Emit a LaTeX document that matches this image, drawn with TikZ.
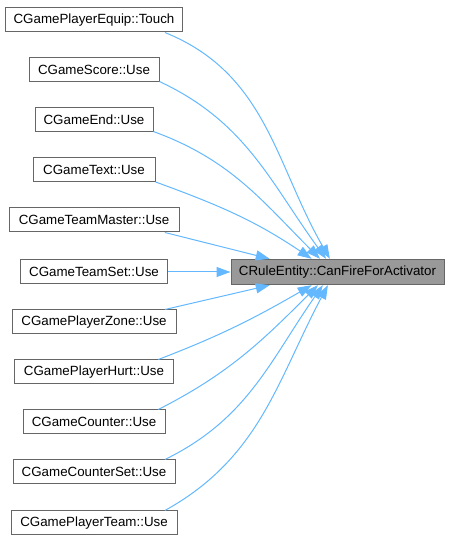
\documentclass[tikz,border=0pt]{standalone}
\usepackage{fontspec}
\setmainfont{Liberation Sans}
\usetikzlibrary{arrows.meta}
\definecolor{edgeblue}{HTML}{63B8FF}
\definecolor{boxgray}{HTML}{666666}
\definecolor{fillgray}{HTML}{999999}

\begin{document}
\begin{tikzpicture}[x=0.75pt, y=0.75pt,
  caller/.style={draw=boxgray, fill=white, line width=0.75pt, minimum height=18pt,
    inner sep=0pt, font=\fontsize{10}{12}\selectfont},
  callee/.style={caller, fill=fillgray, minimum height=19pt},
  call/.style={draw=edgeblue, line width=0.75pt, -{Triangle[length=10.5pt,width=7.5pt]}}]

\useasboundingbox (0,0) rectangle (449,544);

% Called function
\node[callee, minimum width=159.75pt] (canfire) at (337.5,272) {CRuleEntity::CanFireForActivator};

% Callers
\node[caller, minimum width=132.75pt] (equip)   at (94,524) {CGamePlayerEquip::Touch};
\node[caller, minimum width=97.5pt]   (score)   at (94,474) {CGameScore::Use};
\node[caller, minimum width=88.5pt]   (gend)    at (94,424) {CGameEnd::Use};
\node[caller, minimum width=91.5pt]   (gtext)   at (94,374) {CGameText::Use};
\node[caller, minimum width=127.5pt]  (tmaster) at (94,324) {CGameTeamMaster::Use};
\node[caller, minimum width=110.25pt] (tset)    at (94,272) {CGameTeamSet::Use};
\node[caller, minimum width=123pt]    (pzone)   at (94,222) {CGamePlayerZone::Use};
\node[caller, minimum width=119.25pt] (phurt)   at (94,172) {CGamePlayerHurt::Use};
\node[caller, minimum width=106.5pt]  (counter) at (94,122) {CGameCounter::Use};
\node[caller, minimum width=121.5pt]  (cset)    at (94,72)  {CGameCounterSet::Use};
\node[caller, minimum width=124.5pt]  (pteam)   at (94,21)  {CGamePlayerTeam::Use};

% Calls from above
\draw[call] (equip.-10) to[out=-22, in=120] (canfire.120);
\draw[call] (score.-10) to[out=-25, in=126] (canfire.131);
\draw[call] (gend.-11)  to[out=-20, in=135] (canfire.143);
\draw[call] (gtext.-11) to[out=-20, in=146] (canfire.153);
\draw[call] (tmaster.-10) -- (canfire.169);

% Straight call
\draw[call] (tset) -- (canfire);

% Calls from below
\draw[call] (pzone.10) -- (canfire.191);
\draw[call] (phurt.11) to[out=21, in=210] (canfire.207);
\draw[call] (counter.11) to[out=27, in=225] (canfire.214);
\draw[call] (cset.10) to[out=26, in=235] (canfire.222);
\draw[call] (pteam.10) to[out=29, in=242] (canfire.234);

\end{tikzpicture}
\end{document}
